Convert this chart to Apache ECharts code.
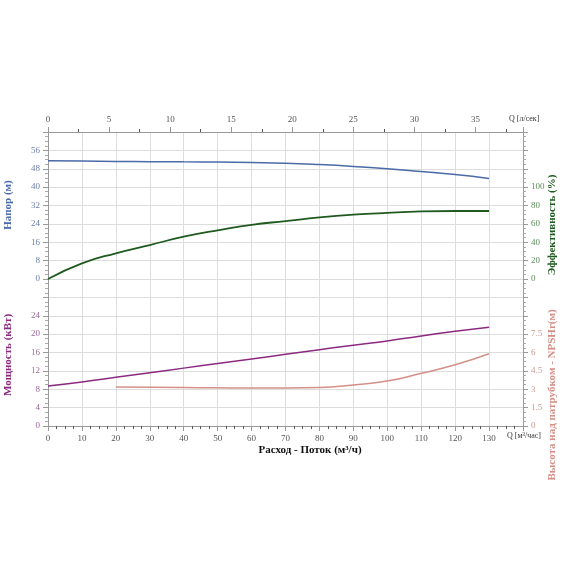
<!DOCTYPE html><html><head><meta charset="utf-8"><script src="https://cdn.jsdelivr.net/npm/echarts@6/dist/echarts.min.js"></script></head><body style="margin:0"><div id="c" style="width:570px;height:570px"></div><script>
const flow=[0,10,20,30,40,50,60,70,80,90,100,110,120,130];
const head=[51.5,51.4,51.2,51.1,51,50.9,50.7,50.4,49.8,49,48,46.8,45.5,43.8];
const eff=[0,17,28,37,46,53,59,63,67,70,72,73.5,74,74];
const power=[8.7,9.6,10.6,11.6,12.6,13.6,14.6,15.6,16.6,17.6,18.5,19.6,20.6,21.5];
const npshQ=[20,40,60,80,90,100,110,120,130];
const npsh=[3.18,3.15,3.1,3.15,3.35,3.67,4.3,5.0,5.9];
const F='Liberation Serif';
const lbl=(c)=>({fontFamily:F,fontSize:9,color:c});
const pair=(xs,ys)=>xs.map((x,i)=>[x,ys[i]]);
function yax(opt){return Object.assign({type:'value',axisLine:{show:true,onZero:false,lineStyle:{color:'#999'}},axisTick:{show:true,lineStyle:{color:'#999'}},minorTick:{show:true,splitNumber:4,lineStyle:{color:'#aaa'}},splitLine:{show:false}},opt);}
const ch=echarts.init(document.getElementById('c'));
ch.setOption({animation:false,
grid:{left:48,right:47,top:132,bottom:144},
xAxis:[{type:'value',min:0,max:140,interval:10,position:'bottom',
 axisLabel:Object.assign(lbl('#555'),{formatter:v=>v>130?'':v}),axisLine:{onZero:false,lineStyle:{color:'#999'}},axisTick:{lineStyle:{color:'#999'}},minorTick:{show:true,splitNumber:4,lineStyle:{color:'#555'}},
 splitLine:{lineStyle:{color:'#ddd'}}},
 {type:'value',min:0,max:140/3.6,interval:5,position:'top',axisLabel:Object.assign(lbl('#555'),{formatter:v=>v>35?'':v}),axisLine:{onZero:false,lineStyle:{color:'#999'}},axisTick:{lineStyle:{color:'#999'}},minorTick:{show:true,splitNumber:2,lineStyle:{color:'#555'}},splitLine:{show:false}}],
yAxis:[yax({min:-64,max:64,interval:8,position:'left',axisLabel:Object.assign(lbl('#6a7fa8'),{formatter:v=>(v<0||v>56)?'':v}),splitLine:{show:true,lineStyle:{color:'#ddd'}}}),
 yax({min:-160,max:160,interval:20,position:'right',axisLabel:Object.assign(lbl('#5a8a5a'),{formatter:v=>(v<0||v>100)?'':v})}),
 yax({min:0,max:64,interval:4,position:'left',axisLabel:Object.assign(lbl('#9a6a9a'),{formatter:v=>v>24?'':v})}),
 yax({min:0,max:24,interval:1.5,position:'right',axisLabel:Object.assign(lbl('#c89a94'),{formatter:v=>v>7.5?'':v})})],
series:[
 {type:'line',data:pair(flow,head),yAxisIndex:0,smooth:true,symbol:'none',lineStyle:{color:'#4a6aa8',width:1.5}},
 {type:'line',data:pair(flow,eff),yAxisIndex:1,smooth:true,symbol:'none',lineStyle:{color:'#1f5a1f',width:1.8}},
 {type:'line',data:pair(flow,power),yAxisIndex:2,smooth:true,symbol:'none',lineStyle:{color:'#8b2a80',width:1.5}},
 {type:'line',data:pair(npshQ,npsh),yAxisIndex:3,smooth:true,symbol:'none',lineStyle:{color:'#d49088',width:1.5}}],
graphic:[
 {type:'text',x:8,y:205,rotation:Math.PI/2,style:{text:'Напор (м)',font:'bold 11px '+F,fill:'#4a6aa8',align:'center',verticalAlign:'middle'}},
 {type:'text',x:8,y:355,rotation:Math.PI/2,style:{text:'Мощность (кВт)',font:'bold 11px '+F,fill:'#8b2a80',align:'center',verticalAlign:'middle'}},
 {type:'text',x:552,y:225,rotation:Math.PI/2,style:{text:'Эффективность (%)',font:'bold 11px '+F,fill:'#1f5a1f',align:'center',verticalAlign:'middle'}},
 {type:'text',x:552,y:395,rotation:Math.PI/2,style:{text:'Высота над патрубком - NPSHr(м)',font:'bold 11px '+F,fill:'#d49088',align:'center',verticalAlign:'middle'}},
 {type:'text',x:310,y:450,style:{text:'Расход - Поток (м³/ч)',font:'bold 11px '+F,fill:'#111',align:'center',verticalAlign:'middle'}},
 {type:'text',x:507,y:436,style:{text:'Q [м³/час]',font:'8px '+F,fill:'#333',verticalAlign:'middle'}},
 {type:'text',x:509,y:119,style:{text:'Q [л/сек]',font:'8px '+F,fill:'#333',verticalAlign:'middle'}}]
});
</script></body></html>
